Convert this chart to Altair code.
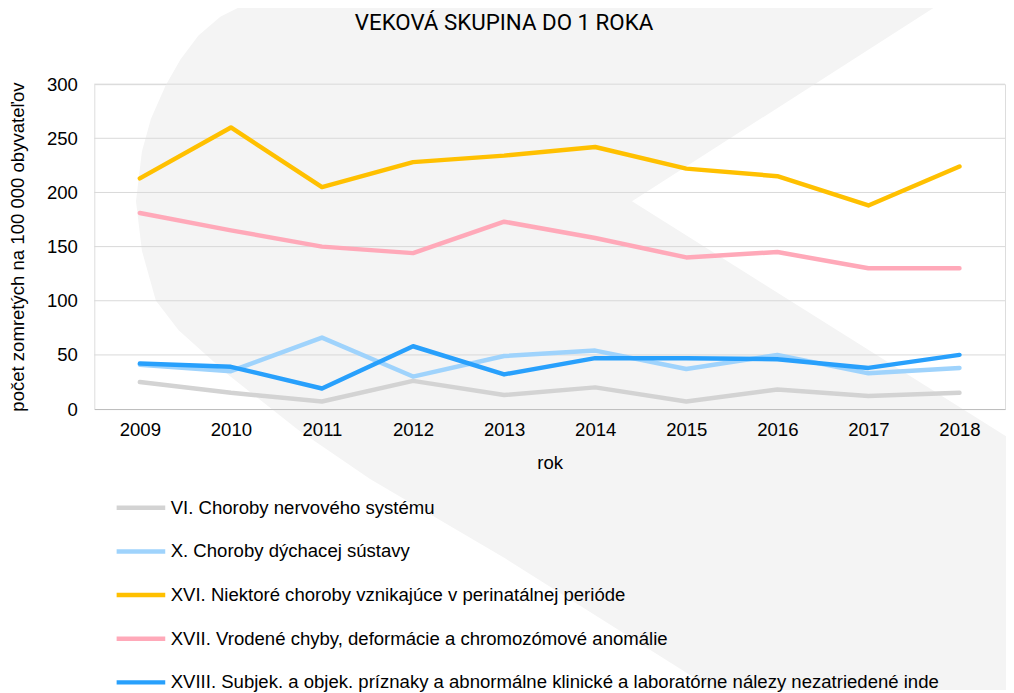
import base64
import altair as alt
import pandas as pd

# ---- data -------------------------------------------------------------
years = ["2009", "2010", "2011", "2012", "2013", "2014", "2015", "2016", "2017", "2018"]

series_names = [
    "VI. Choroby nervového systému",
    "X. Choroby dýchacej sústavy",
    "XVI. Niektoré choroby vznikajúce v perinatálnej perióde",
    "XVII. Vrodené chyby, deformácie a chromozómové anomálie",
    "XVIII. Subjek. a objek. príznaky a abnormálne klinické a laboratórne nálezy nezatriedené inde",
]

vi_nervovy = [25, 15, 7, 26, 13, 20, 7, 18, 12, 15]
x_dychaci = [41, 35, 66, 30, 49, 54, 37, 50, 33, 38]
xvi_perinatalne = [213, 260, 205, 228, 234, 242, 222, 215, 188, 224]
xvii_vrodene = [181, 165, 150, 144, 173, 158, 140, 145, 130, 130]
xviii_priznaky = [42, 39, 19, 58, 32, 47, 47, 46, 38, 50]

y_ticks = [0, 50, 100, 150, 200, 250, 300]
grid_values = [50, 100, 150, 200, 250, 300]

series_colors = ["#d3d3d3", "#9fd3fc", "#ffc000", "#ffa9b9", "#28a0fc"]

# ---- tables -----------------------------------------------------------
all_values = [vi_nervovy, x_dychaci, xvi_perinatalne, xvii_vrodene, xviii_priznaky]
rows = []
for name, vals in zip(series_names, all_values):
    for yr, v in zip(years, vals):
        rows.append({"rok": yr, "seria": name, "hodnota": v})
df = pd.DataFrame(rows)
grid_df = pd.DataFrame({"g": grid_values})

# decorative light-grey background swoosh (styling only)
bg_svg = (
    '<svg xmlns="http://www.w3.org/2000/svg" width="1014" height="693">'
    '<path fill="#f4f4f4" d="M250,0 L949,0 L637,200 L1014,437 L1014,693 L720,693 '
    'L509,560 L373,480 L300,430 L230,375 L180,330 L157,300 L143,250 L137,200 '
    'L143,150 L152,117 L167,83 L182,57 L200,33 L222,14 Z"/></svg>'
)
bg_url = "data:image/svg+xml;base64," + base64.b64encode(bg_svg.encode("utf-8")).decode("ascii")

FONT = "Liberation Sans"
FS = 18.7

background = alt.Chart(pd.DataFrame({"u": [bg_url]})).mark_image(
    width=1014, height=693, align="left", baseline="top", aspect=False
).encode(url="u:N", x=alt.value(-95), y=alt.value(-82))

grid = alt.Chart(grid_df).mark_rule(color="#d9d9d9", strokeWidth=1).encode(
    y=alt.Y("g:Q", scale=alt.Scale(domain=[0, 300]))
)

lines = alt.Chart(df).mark_line(strokeWidth=4.5, strokeCap="round", strokeJoin="round").encode(
    x=alt.X(
        "rok:O",
        scale=alt.Scale(type="point", padding=0.5),
        sort=years,
        axis=alt.Axis(
            title="rok",
            labelAngle=0,
            labelFont=FONT,
            labelFontSize=FS,
            labelColor="#000000",
            labelPadding=12,
            ticks=False,
            domainColor="#bcbcbc",
            domainWidth=1,
            titleFont=FONT,
            titleFontSize=FS,
            titleFontWeight="normal",
            titleColor="#000000",
            titlePadding=14,
            zindex=1,
        ),
    ),
    y=alt.Y(
        "hodnota:Q",
        scale=alt.Scale(domain=[0, 300]),
        axis=alt.Axis(
            title="počet zomretých na 100 000 obyvateľov",
            values=y_ticks,
            labelFont=FONT,
            labelFontSize=FS,
            labelColor="#000000",
            labelPadding=17,
            ticks=False,
            domain=False,
            grid=False,
            titleFont=FONT,
            titleFontSize=FS,
            titleFontWeight="normal",
            titleColor="#000000",
            titleX=-67,
            zindex=1,
        ),
    ),
    color=alt.Color(
        "seria:N",
        sort=series_names,
        scale=alt.Scale(domain=series_names, range=series_colors),
        legend=alt.Legend(
            title=None,
            orient="none",
            legendX=20,
            legendY=400,
            direction="vertical",
            symbolType="stroke",
            symbolSize=2401,
            symbolStrokeWidth=4.5,
            labelFont=FONT,
            labelFontSize=FS,
            labelColor="#000000",
            labelOffset=3,
            labelLimit=1000,
            rowPadding=7,
            padding=0,
        ),
    ),
)

chart = (
    alt.layer(background, grid, lines)
    .properties(
        width=918,
        height=327.5,
        title=alt.TitleParams(
            "VEKOVÁ SKUPINA DO 1 ROKA",
            font="Roboto",
            fontSize=22.5,
            fontWeight="normal",
            color="#000000",
            anchor="middle",
            frame="group",
            dx=-46,
            dy=42,
            offset=10,
        ),
        autosize=alt.AutoSizeParams(type="none"),
        padding={"left": 87, "top": 74, "right": 1, "bottom": 290},
    )
    .configure_view(stroke=None)
    .configure(background="#ffffff")
)

chart.save("out.html", embed_options={"renderer": "svg", "actions": False})
